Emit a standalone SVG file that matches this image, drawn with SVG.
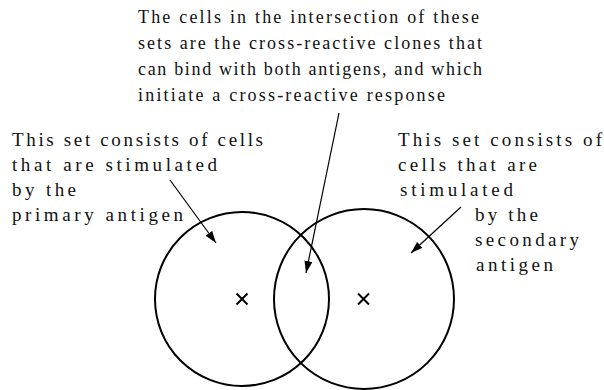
<svg xmlns="http://www.w3.org/2000/svg" width="604" height="390" viewBox="0 0 604 390">
<style>
text{font-family:"Liberation Serif","Times New Roman",serif;font-size:18px;fill:#111}
.side text{font-size:19px}
.set{fill:none;stroke:#000;stroke-width:2}
.cross{stroke:#000;stroke-width:2;fill:none}
.conn{stroke:#000;stroke-width:1.2;fill:none;marker-end:url(#ah)}
</style>
<defs>
<marker id="ah" viewBox="0 0 12 8" refX="12" refY="4" markerWidth="12" markerHeight="8" markerUnits="userSpaceOnUse" orient="auto">
<path d="M0,0 L12,4 L0,8 Z" fill="#000"/>
</marker>
</defs>
<rect width="604" height="390" fill="#fff"/>
<g id="set-primary">
<circle class="set" cx="242" cy="299" r="87"/>
<path class="cross" d="M236.5,293.5 L247.5,304.5 M247.5,293.5 L236.5,304.5"/>
</g>
<g id="set-secondary">
<circle class="set" cx="364" cy="299" r="90"/>
<path class="cross" d="M358,293.5 L369,304.5 M369,293.5 L358,304.5"/>
</g>
<g id="label-intersection">
<text x="138" y="23" textLength="341" lengthAdjust="spacing">The cells in the intersection of these</text>
<text x="138" y="49" textLength="344" lengthAdjust="spacing">sets are the cross-reactive clones that</text>
<text x="138" y="75" textLength="344" lengthAdjust="spacing">can bind with both antigens, and which</text>
<text x="138" y="101" textLength="307" lengthAdjust="spacing">initiate a cross-reactive response</text>
</g>
<g id="label-primary" class="side">
<text x="12" y="146" textLength="251" lengthAdjust="spacing">This set consists of cells</text>
<text x="12" y="171" textLength="205" lengthAdjust="spacing">that are stimulated</text>
<text x="12" y="196" textLength="64" lengthAdjust="spacing">by the</text>
<text x="12" y="221" textLength="171" lengthAdjust="spacing">primary antigen</text>
</g>
<g id="label-secondary" class="side">
<text x="398" y="146" textLength="204" lengthAdjust="spacing">This set consists of</text>
<text x="398" y="171" textLength="139" lengthAdjust="spacing">cells that are</text>
<text x="400" y="196" textLength="113" lengthAdjust="spacing">stimulated</text>
<text x="475" y="221" textLength="63" lengthAdjust="spacing">by the</text>
<text x="475" y="246" textLength="104" lengthAdjust="spacing">secondary</text>
<text x="476" y="271" textLength="77" lengthAdjust="spacing">antigen</text>
</g>
<g id="connectors">
<line class="conn" x1="170" y1="180" x2="216" y2="243"/>
<line class="conn" x1="339" y1="113" x2="306" y2="273"/>
<line class="conn" x1="461" y1="207" x2="411" y2="253"/>
</g>
</svg>
